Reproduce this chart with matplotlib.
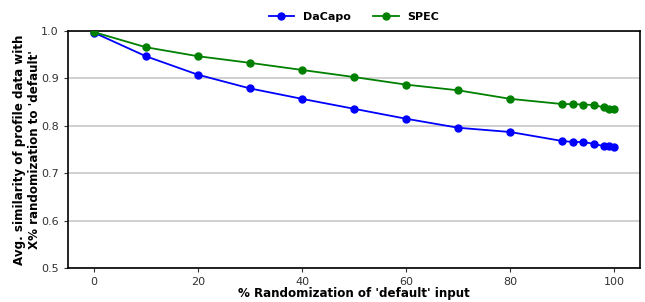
import matplotlib
matplotlib.use("Agg")
import matplotlib.pyplot as plt

randomization = [0, 10, 20, 30, 40, 50, 60, 70, 80, 90, 92, 94, 96, 98, 99, 100]
dacapo = [0.997, 0.947, 0.908, 0.879, 0.857, 0.836, 0.815, 0.796, 0.787,
          0.768, 0.766, 0.766, 0.762, 0.757, 0.757, 0.755]
spec = [0.998, 0.966, 0.947, 0.933, 0.918, 0.903, 0.887, 0.875, 0.857,
        0.846, 0.846, 0.845, 0.844, 0.839, 0.836, 0.836]
yticks = [0.5, 0.6, 0.7, 0.8, 0.9, 1.0]

fig = plt.figure(figsize=(6.45, 3.02), dpi=100)
ax = fig.add_axes([0.105, 0.1126, 0.888, 0.7844])

ax.plot(randomization, dacapo, color="blue", marker="o", markersize=5,
        linewidth=1.3, label="DaCapo", zorder=3)
ax.plot(randomization, spec, color="green", marker="o", markersize=5,
        linewidth=1.3, label="SPEC", zorder=3)

ax.set_xlim(-5, 105)
ax.set_ylim(0.5, 1.0)
ax.set_yticks(yticks)
ax.set_xticks([0, 20, 40, 60, 80, 100])
ax.yaxis.grid(True, color="#c8c8c8", linewidth=1.2)
ax.set_axisbelow(True)
ax.tick_params(labelsize=8, length=3, color="#333333", labelcolor="#333333")
for side in ax.spines.values():
    side.set_linewidth(1.2)

ax.set_xlabel("% Randomization of 'default' input", fontsize=8.6,
              fontweight="bold", labelpad=0)
ax.set_ylabel("Avg. similarity of profile data with\nX% randomization to 'default'",
              fontsize=8.6, fontweight="bold", labelpad=0, linespacing=1.2)

ax.legend(loc="lower center", bbox_to_anchor=(0.5, 1.0), ncol=2, frameon=False,
          prop={"weight": "bold", "size": 8}, handlelength=2.3, columnspacing=2.0,
          borderaxespad=0.4)

fig.savefig("out.png", dpi=100)
